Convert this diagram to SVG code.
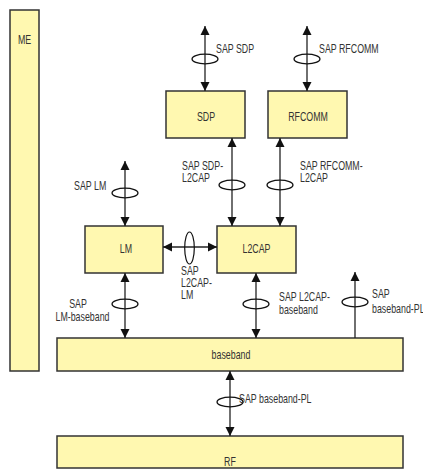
<svg xmlns="http://www.w3.org/2000/svg" width="423" height="469" viewBox="0 0 423 469">
<defs>
<marker id="ah" viewBox="0 0 10 10" refX="10" refY="5" markerWidth="9" markerHeight="12" markerUnits="userSpaceOnUse" orient="auto-start-reverse">
<path d="M0,0 L10,5 L0,10 Z" fill="#111"/>
</marker>
<style>
.box{fill:#fff8b0;stroke:#333;stroke-width:1.5}
.t{font-family:"Liberation Sans",Arial,sans-serif;font-size:13px;fill:#333}
.c{text-anchor:middle}
.ln{stroke:#222;stroke-width:1.3;fill:none}
.el{stroke:#111;stroke-width:1.2;fill:none}
</style>
</defs>
<rect width="423" height="469" fill="#fff"/>
<g id="ME"><rect class="box" x="10" y="10" width="29" height="361"/><text class="t c" transform="translate(24.5 44) scale(0.68 1)">ME</text></g>
<g id="SDP"><rect class="box" x="166" y="91" width="79" height="47"/><text class="t c" transform="translate(206 121) scale(0.68 1)">SDP</text></g>
<g id="RFCOMM"><rect class="box" x="268" y="91" width="79" height="47"/><text class="t c" transform="translate(308 121) scale(0.68 1)">RFCOMM</text></g>
<g id="LM"><rect class="box" x="85" y="226" width="78" height="47"/><text class="t c" transform="translate(126 253) scale(0.68 1)">LM</text></g>
<g id="L2CAP"><rect class="box" x="217" y="226" width="79" height="47"/><text class="t c" transform="translate(256.5 253) scale(0.68 1)">L2CAP</text></g>
<g id="baseband"><rect class="box" x="57" y="338" width="346" height="33"/><text class="t c" transform="translate(231 359) scale(0.68 1)">baseband</text></g>
<g id="RF"><rect class="box" x="57" y="436" width="346" height="32"/><text class="t c" transform="translate(230 466) scale(0.68 1)">RF</text></g>
<g id="connectors">
<line class="ln" x1="205" y1="26" x2="205" y2="91" marker-start="url(#ah)" marker-end="url(#ah)"/>
<ellipse class="el" cx="205" cy="59" rx="13" ry="4.8"/>
<text class="t" transform="translate(216 53) scale(0.68 1)">SAP SDP</text>
<line class="ln" x1="307" y1="26" x2="307" y2="91" marker-start="url(#ah)" marker-end="url(#ah)"/>
<ellipse class="el" cx="307" cy="59" rx="13" ry="4.8"/>
<text class="t" transform="translate(319 53) scale(0.68 1)">SAP RFCOMM</text>
<line class="ln" x1="232" y1="138" x2="232" y2="226" marker-start="url(#ah)" marker-end="url(#ah)"/>
<ellipse class="el" cx="232" cy="185" rx="13" ry="4.8"/>
<text class="t" transform="translate(182 170) scale(0.68 1)">SAP SDP-</text><text class="t" transform="translate(182 182) scale(0.68 1)">L2CAP</text>
<line class="ln" x1="280" y1="138" x2="280" y2="226" marker-start="url(#ah)" marker-end="url(#ah)"/>
<ellipse class="el" cx="280" cy="185" rx="13" ry="4.8"/>
<text class="t" transform="translate(300 170) scale(0.68 1)">SAP RFCOMM-</text><text class="t" transform="translate(300 182) scale(0.68 1)">L2CAP</text>
<line class="ln" x1="125" y1="161" x2="125" y2="226" marker-start="url(#ah)" marker-end="url(#ah)"/>
<ellipse class="el" cx="125" cy="193" rx="13" ry="4.8"/>
<text class="t" transform="translate(74 190) scale(0.68 1)">SAP LM</text>
<line class="ln" x1="163" y1="247" x2="217" y2="247" marker-start="url(#ah)" marker-end="url(#ah)"/>
<ellipse class="el" cx="189.5" cy="248" rx="4.8" ry="16"/>
<text class="t" transform="translate(181 275) scale(0.68 1)">SAP</text><text class="t" transform="translate(181 287) scale(0.68 1)">L2CAP-</text><text class="t" transform="translate(181 299) scale(0.68 1)">LM</text>
<line class="ln" x1="125" y1="273" x2="125" y2="338" marker-start="url(#ah)" marker-end="url(#ah)"/>
<ellipse class="el" cx="125" cy="304" rx="13" ry="4.8"/>
<text class="t c" transform="translate(78 308) scale(0.68 1)">SAP</text><text class="t c" transform="translate(82.5 321) scale(0.68 1)">LM-baseband</text>
<line class="ln" x1="256" y1="273" x2="256" y2="338" marker-start="url(#ah)" marker-end="url(#ah)"/>
<ellipse class="el" cx="256" cy="304" rx="13" ry="4.8"/>
<text class="t" transform="translate(279 301) scale(0.68 1)">SAP L2CAP-</text><text class="t" transform="translate(279 314) scale(0.68 1)">baseband</text>
<line class="ln" x1="355" y1="338" x2="355" y2="272" marker-end="url(#ah)"/>
<ellipse class="el" cx="355" cy="302" rx="13" ry="4.8"/>
<text class="t" transform="translate(372 298) scale(0.68 1)">SAP</text><text class="t" transform="translate(372 313) scale(0.68 1)">baseband-PL</text>
<line class="ln" x1="230" y1="371" x2="230" y2="436" marker-start="url(#ah)" marker-end="url(#ah)"/>
<ellipse class="el" cx="230" cy="402" rx="13" ry="4.8"/>
<text class="t" transform="translate(239 403) scale(0.68 1)">SAP baseband-PL</text>
</g>
</svg>
